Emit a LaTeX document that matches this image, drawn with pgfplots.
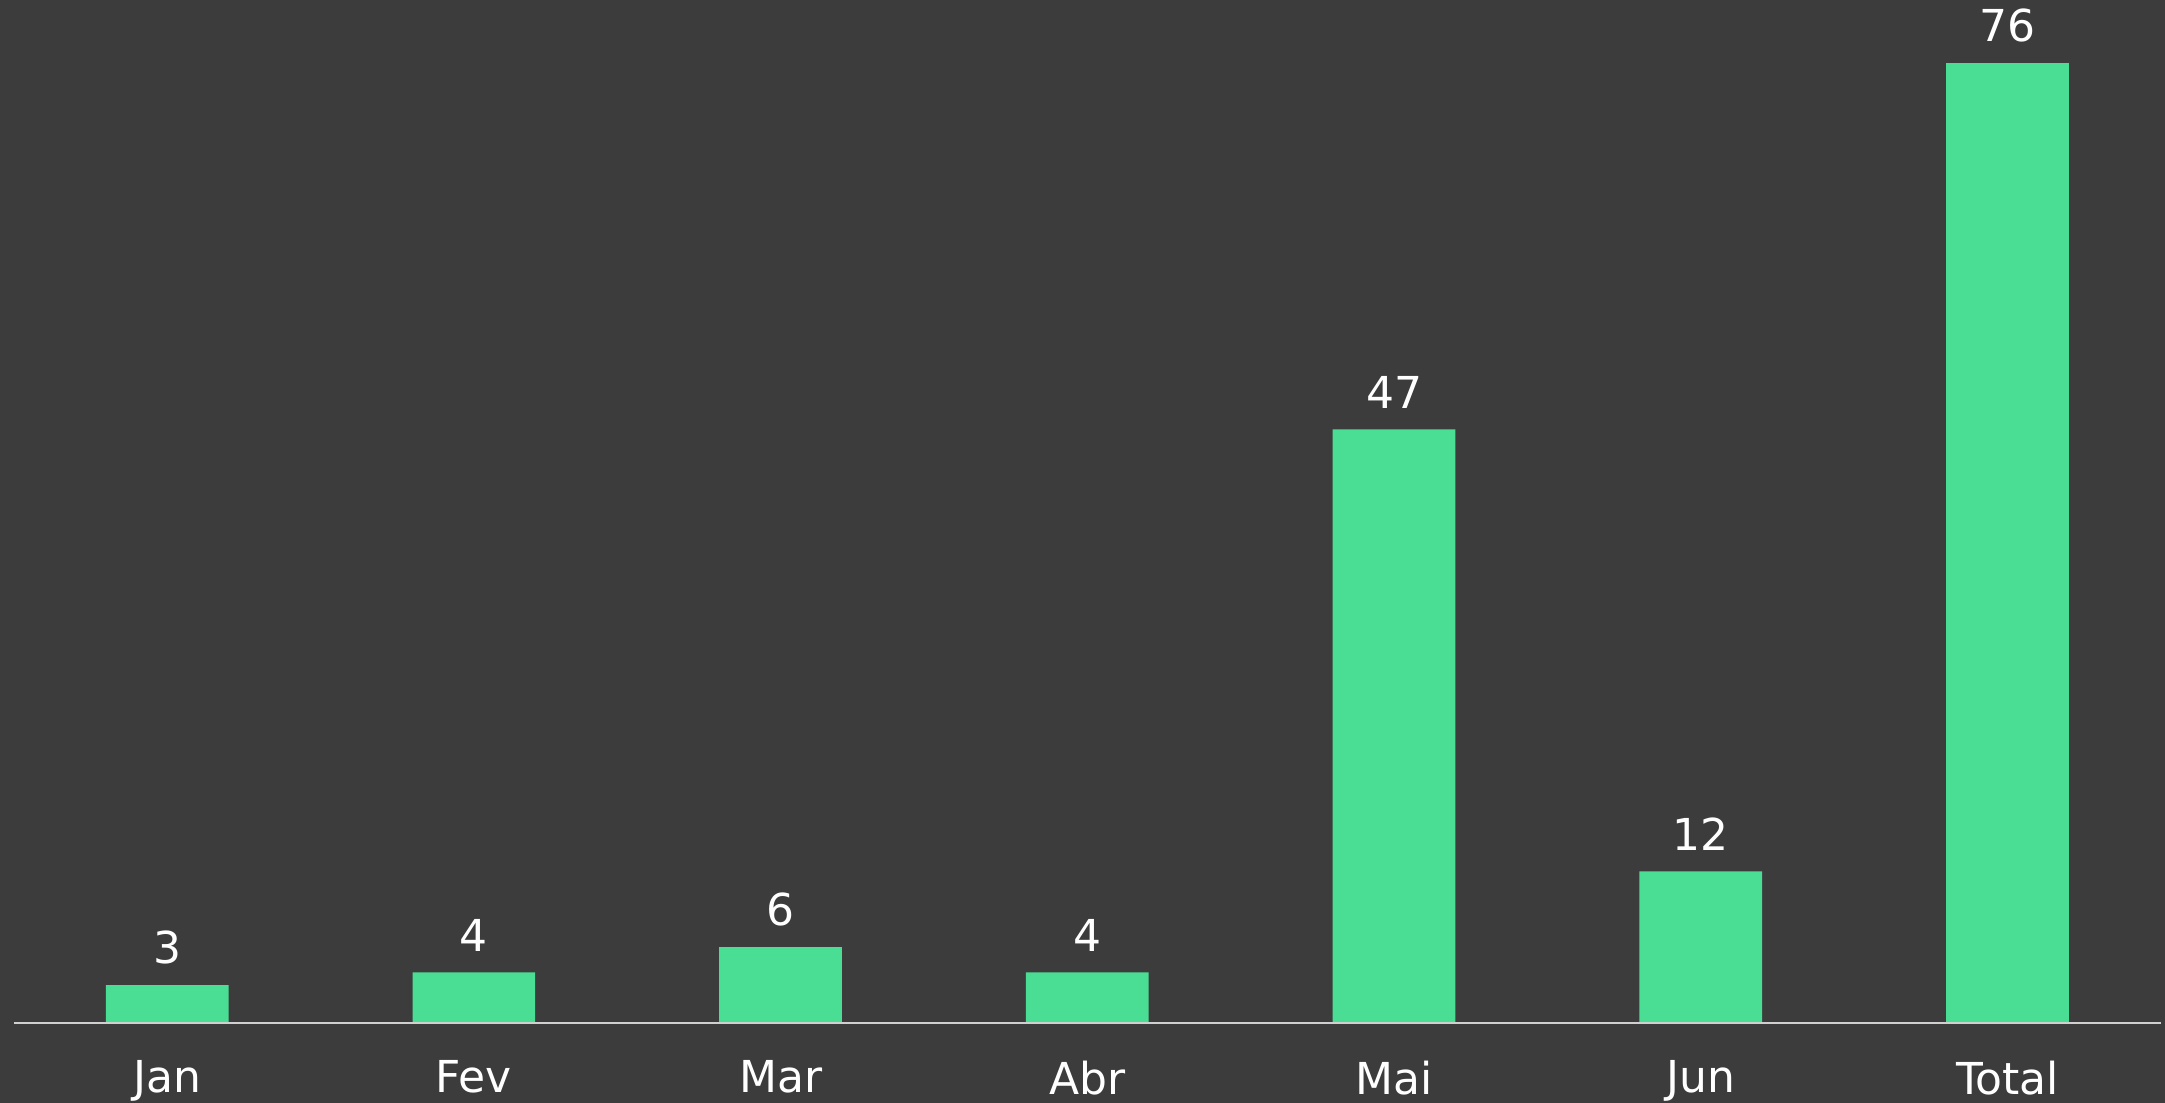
\documentclass[border=0pt]{standalone}
\usepackage{pgfplots}
\pgfplotsset{compat=1.18}
\usepackage{fontspec}
\setmainfont{DejaVu Sans}
\definecolor{bg}{HTML}{3C3C3C}
\definecolor{bar}{HTML}{4ADE94}
\definecolor{base}{HTML}{D0D0D0}
\begin{document}
\begin{tikzpicture}
\fill[bg] (-3.45pt,-20pt) rectangle (537.8pt,255.75pt);
\useasboundingbox (-3.45pt,-20pt) rectangle (537.8pt,255.75pt);
\begin{axis}[
  at={(0,0)}, anchor=south west,
  scale only axis,
  width=536.75pt, height=255.75pt,
  xmin=-0.5, xmax=6.5, ymin=0, ymax=81,
  ybar, bar width=0.4, bar shift=0pt,
  axis line style={draw=none},
  ytick=\empty,
  xtick={0,1,2,3,4,5,6},
  xticklabels={Jan,Fev,Mar,Abr,Mai,Jun,Total},
  major tick length=0pt,
  xticklabel style={font=\fontsize{11}{13}\selectfont, text=white, inner sep=0pt, anchor=north, yshift=-9.2pt},
  nodes near coords,
  nodes near coords style={font=\fontsize{11}{13}\selectfont, text=white, inner sep=0pt, anchor=south, yshift=5pt},
  /pgf/number format/assume math mode=true,
  clip=false,
]
\addplot[fill=bar, draw=none] coordinates {(0,3) (1,4) (2,6) (3,4) (4,47) (5,12) (6,76)};
\draw[base, line width=0.5pt] (rel axis cs:0,0) -- (rel axis cs:1,0);
\end{axis}
\end{tikzpicture}
\end{document}
